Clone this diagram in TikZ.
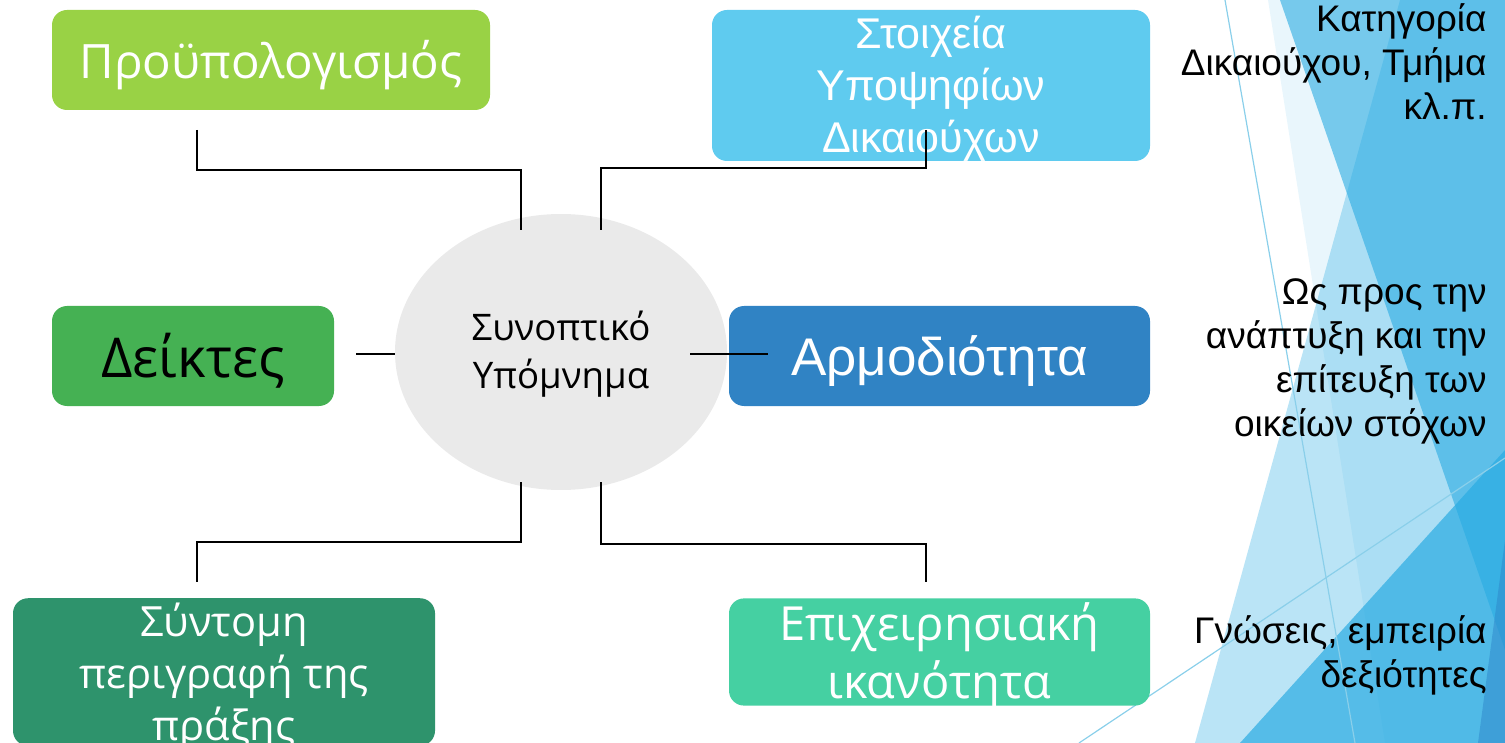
\documentclass[tikz,border=0pt]{standalone}
\usepackage{fontspec}
\setmainfont{Liberation Sans}
\newfontfamily\osfont{Open Sans}
\usetikzlibrary{calc,shapes.geometric}
\definecolor{bgblue}{HTML}{29ABE2}
\definecolor{bgdark}{HTML}{2E86C9}
\definecolor{bgline}{HTML}{8ACFEA}
\definecolor{cprou}{HTML}{99D245}
\definecolor{cstoix}{HTML}{5FCBEF}
\definecolor{cdeik}{HTML}{45B153}
\definecolor{carm}{HTML}{3083C4}
\definecolor{csynt}{HTML}{2E936C}
\definecolor{cepix}{HTML}{45D0A2}
\definecolor{cell}{HTML}{EAEAEA}
\newcommand\dn[2]{\raisebox{-#1}[\height][\depth]{#2}}
\begin{document}
\begin{tikzpicture}[x=0.5pt,y=-0.5pt,
  box/.style={rounded corners=7.5pt, inner sep=0pt, align=center, draw=none},
  conn/.style={draw=black, line width=0.8pt},
  side/.style={anchor=east, align=right, inner sep=0pt, font=\fontsize{18.5}{22}\selectfont}]
\useasboundingbox (0,0) rectangle (1505,743);
% background facets
\begin{scope}
\clip (0,0) rectangle (1505,743);
\fill[bgblue, fill opacity=0.1] (1268,0) -- (1505,0) -- (1505,743) -- (1385,743) -- cycle;
\fill[bgblue, fill opacity=0.32] (1400,0) -- (1505,0) -- (1505,743) -- (1195,743) -- cycle;
\fill[bgblue, fill opacity=0.6] (1280,0) -- (1505,0) -- (1505,650) -- cycle;
\fill[bgblue, fill opacity=0.7] (1505,450) -- (1240,743) -- (1505,743) -- cycle;
\fill[bgdark, fill opacity=0.5] (1505,540) -- (1478,743) -- (1505,743) -- cycle;
\draw[bgline, line width=0.6pt] (1225,0) -- (1355,743);
\draw[bgline, line width=0.6pt] (1079,743) -- (1505,458);
\end{scope}
% boxes
\node[box, fill=cprou, minimum width=219pt, minimum height=50pt, text=white,
  font=\osfont\fontsize{23.7}{30}\selectfont] (prou) at (271,60) {\dn{2.5pt}{Προϋπολογισμός}};
\node[box, fill=cstoix, minimum width=219pt, minimum height=75.5pt, text=white,
  font=\fontsize{21.5}{26}\selectfont] (stoix) at (931,85.5)
  {\dn{1.5pt}{Στοιχεία}\\\dn{1.5pt}{Υποψηφίων}\\\dn{1.5pt}{Δικαιούχων}};
\node[box, fill=cdeik, minimum width=141pt, minimum height=50pt, text=black,
  font=\osfont\fontsize{27.5}{32}\selectfont] (deik) at (193,356) {\dn{2.5pt}{Δείκτες}};
\node[ellipse, fill=cell, minimum width=166pt, minimum height=138pt, inner sep=0pt, align=center,
  font=\osfont\fontsize{18.3}{24}\selectfont] (ell) at (561,352)
  {\dn{1pt}{Συνοπτικό}\\\dn{1pt}{Υπόμνημα}};
\node[box, fill=carm, minimum width=210.5pt, minimum height=50pt, text=white,
  font=\fontsize{26.5}{32}\selectfont] (arm) at (939.5,356) {\dn{2.5pt}{Αρμοδιότητα}};
\node[box, fill=csynt, minimum width=211pt, minimum height=70pt, text=white,
  font=\osfont\fontsize{20.8}{26}\selectfont] (synt) at (224,672)
  {\dn{2.5pt}{Σύντομη}\\\dn{2.5pt}{περιγραφή της}\\\dn{2.5pt}{πράξης}};
\node[box, fill=cepix, minimum width=210.5pt, minimum height=50pt, text=white,
  font=\osfont\fontsize{23.5}{29}\selectfont] (epix) at (939.5,652)
  {\dn{2pt}{Επιχειρησιακή}\\\dn{2pt}{ικανότητα}};
% side texts
\node[side] (r1) at (1487,62) {Κατηγορία\\Δικαιούχου, Τμήμα\\κλ.π.};
\node[side] (r2) at (1487,361) {Ως προς την\\ανάπτυξη και την\\επίτευξη των\\οικείων στόχων};
\node[side] (r3) at (1487,655) {Γνώσεις, εμπειρία\\δεξιότητες};
% connector ends
\coordinate (p1) at (197,130);
\coordinate (p2) at (521,230);
\coordinate (s1) at (601,230);
\coordinate (s2) at (926,130);
\coordinate (d1) at (356,354);
\coordinate (d2) at (395,354);
\coordinate (a1) at (690,354);
\coordinate (a2) at (768,354);
\coordinate (n1) at (521,482);
\coordinate (n2) at (197,582);
\coordinate (e1) at (601,482);
\coordinate (e2) at (926,582);
\draw[conn] (p1) -- ++(0,40) -| (p2);
\draw[conn] (s1) -- ++(0,-62) -| (s2);
\draw[conn] (d1) -- (d2);
\draw[conn] (a1) -- (a2);
\draw[conn] (n1) -- ++(0,60) -| (n2);
\draw[conn] (e1) -- ++(0,62) -| (e2);
\end{tikzpicture}
\end{document}
